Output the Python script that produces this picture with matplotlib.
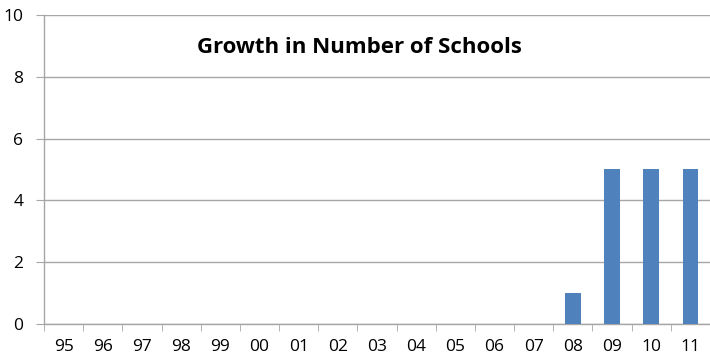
import matplotlib
matplotlib.use("Agg")
import matplotlib.pyplot as plt
import numpy as np

categories = ["95", "96", "97", "98", "99", "00", "01", "02", "03", "04",
              "05", "06", "07", "08", "09", "10", "11"]
values = [0, 0, 0, 0, 0, 0, 0, 0, 0, 0, 0, 0, 0, 1, 5, 5, 5]
y_ticks = [0, 2, 4, 6, 8, 10]

plt.rcParams['font.family'] = ['Open Sans', 'DejaVu Sans']

fig = plt.figure(figsize=(7.1, 3.59), dpi=100)
ax = fig.add_axes([0.062, 0.0975, 0.938, 0.861])

x = np.arange(len(categories))
ax.bar(x, values, width=0.4, color="#4F81BD", zorder=3)

ax.set_xlim(-0.5, len(categories) - 0.5)
ax.set_ylim(0, 10)
ax.set_yticks(y_ticks)
ax.set_yticklabels([str(v) for v in y_ticks], fontsize=12.5)
ax.set_xticks(x)
ax.set_xticklabels(categories, fontsize=12.5)
ax.set_xticks(np.arange(-0.5, len(categories), 1), minor=True)

grid_c = "#A6A6A6"
ax.grid(axis="y", color=grid_c, linewidth=1, zorder=0)
for s in ["top", "right"]:
    ax.spines[s].set_visible(False)
for s in ["left", "bottom"]:
    ax.spines[s].set_color(grid_c)
    ax.spines[s].set_linewidth(1)

ax.tick_params(axis="y", length=6, color=grid_c, pad=9, labelcolor="black")
ax.tick_params(axis="x", which="major", length=0, pad=11, labelcolor="black")
ax.tick_params(axis="x", which="minor", length=5, color=grid_c)

ax.text(0.474, 0.896, "Growth in Number of Schools", transform=ax.transAxes,
        ha="center", va="center", fontsize=16, fontweight="bold")

fig.savefig("out.png", dpi=100)
